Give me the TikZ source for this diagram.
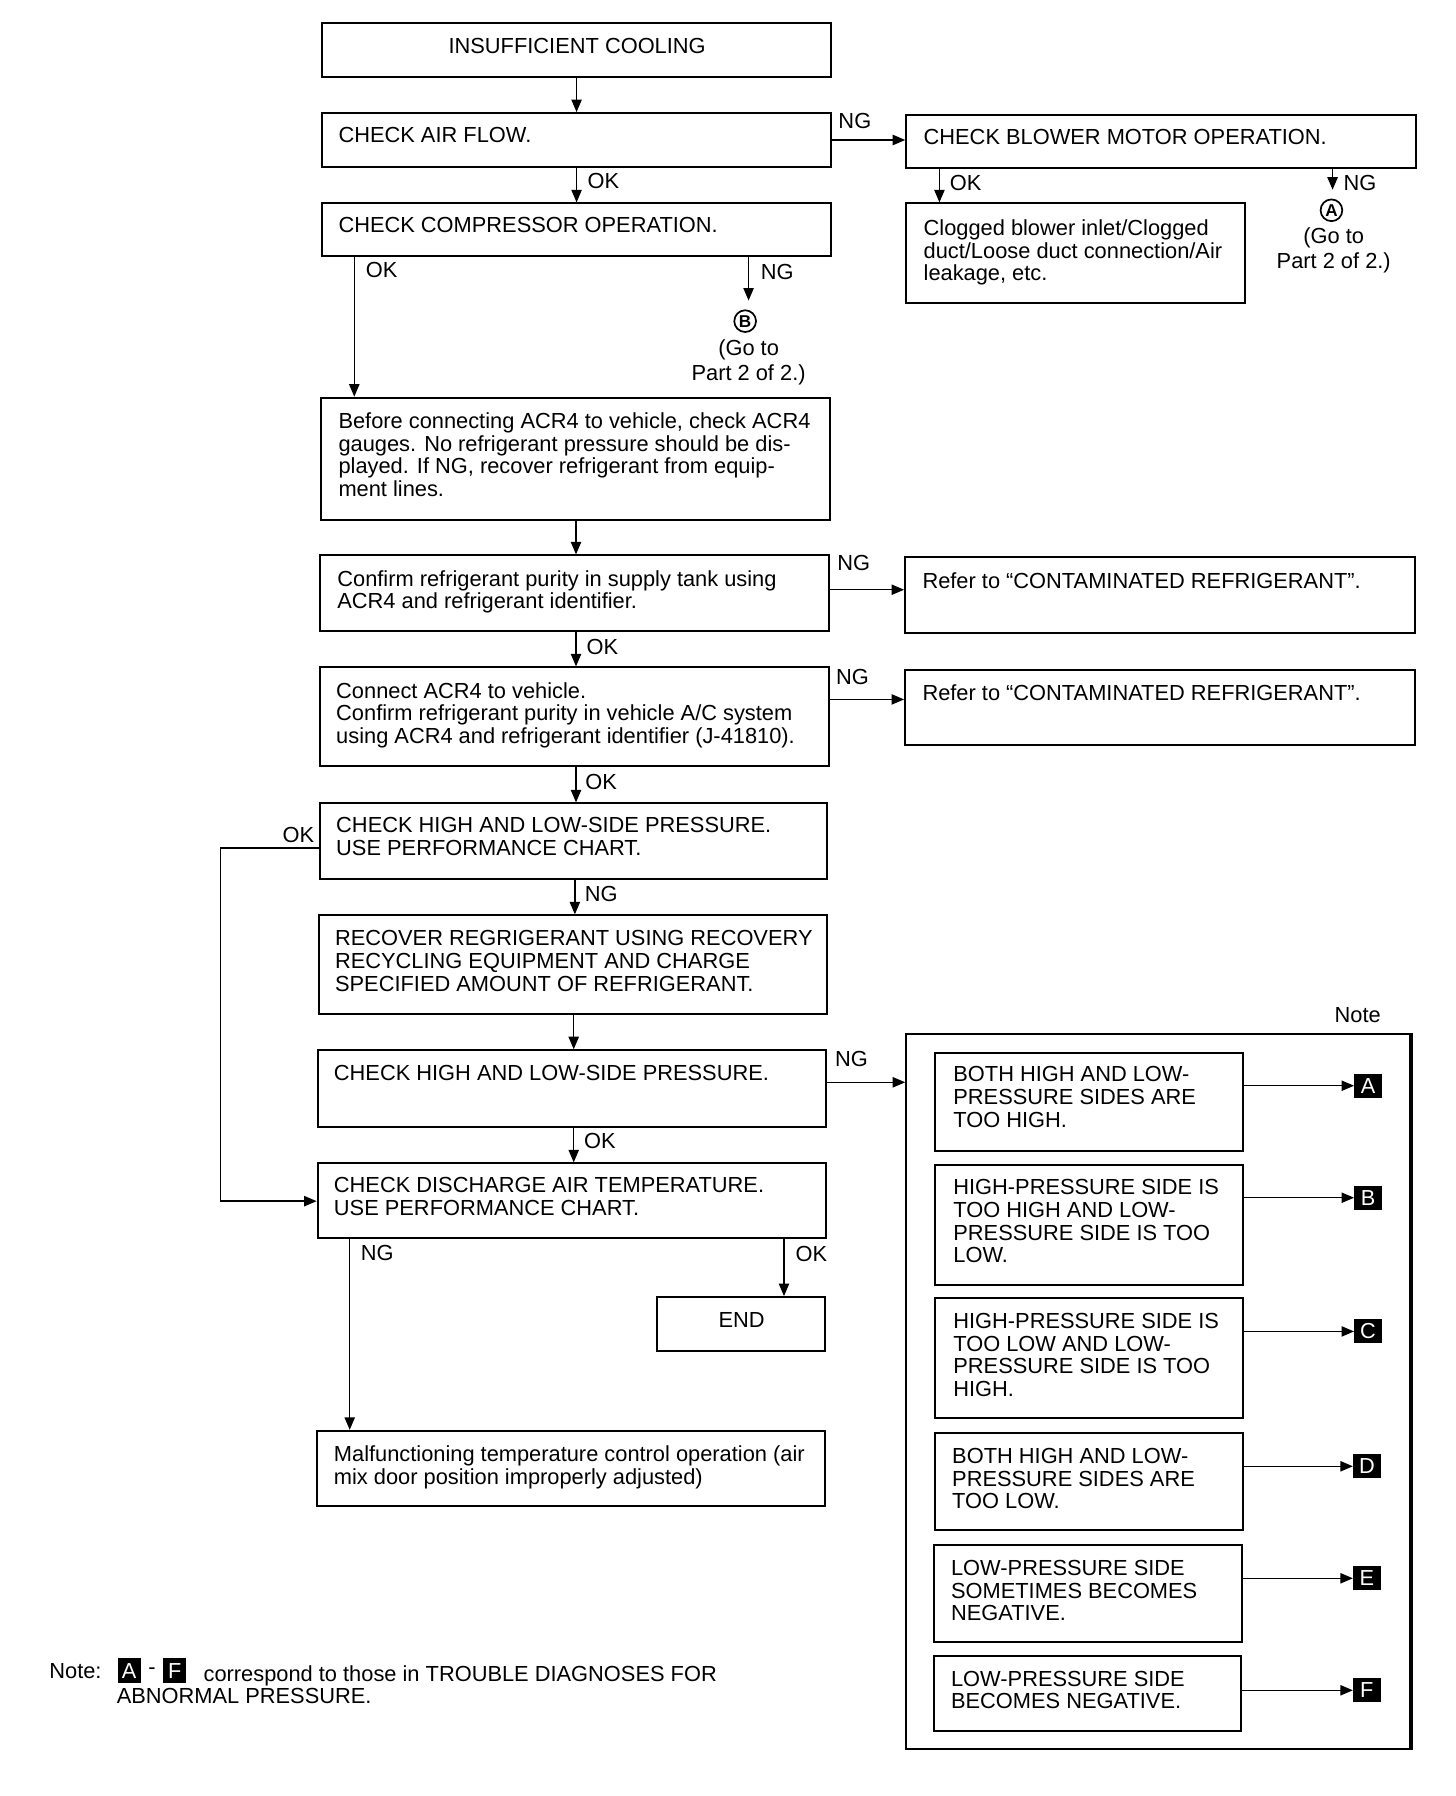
\documentclass[tikz,border=0pt]{standalone}
\usepackage{fontspec}
\setmainfont{Liberation Sans}
\usetikzlibrary{arrows.meta,calc,fit}
\begin{document}
\begin{tikzpicture}[x=1pt,y=-1pt,
  box/.style={draw, line width=1.8pt, inner sep=0pt},
  txt/.style={inner sep=0pt, align=left, anchor=north west, yshift=7pt, font=\fontsize{19.1}{19.8}\selectfont},
  lbl/.style={inner sep=0pt, font=\fontsize{19.1}{19.8}\selectfont},
  ctr/.style={inner sep=0pt, align=center, anchor=north, yshift=7pt, font=\fontsize{19.1}{21.5}\selectfont},
  arr/.style={line width=1.3pt, -{Triangle[length=11pt,width=9pt]}},
  lett/.style={fill=black, text=white, minimum width=24pt, minimum height=21pt, inner sep=0pt, font=\fontsize{19}{19}\selectfont},
  circ/.style={circle, draw, line width=1.5pt, inner sep=0pt, minimum size=19pt, font=\bfseries\fontsize{15}{15}\selectfont},
]
\useasboundingbox (0,0) rectangle (1274,1571.5);

% ---------- main column boxes ----------
\node[box, fit={(282,20)(727,67)}] (b1) {};
\node[box, fit={(282,99)(727,146)}] (b2) {};
\node[box, fit={(282,178)(727,224)}] (b3) {};
\node[box, fit={(281,348)(726,455)}] (b4) {};
\node[box, fit={(280,486)(725,552)}] (b5) {};
\node[box, fit={(280,584)(725,670)}] (b6) {};
\node[box, fit={(280,703)(724,769)}] (b7) {};
\node[box, fit={(279,801)(724,887)}] (b8) {};
\node[box, fit={(278,919)(723,986)}] (b9) {};
\node[box, fit={(278,1018)(723,1083)}] (b10) {};
\node[box, fit={(575,1135)(722,1182)}] (b11) {};
\node[box, fit={(277,1252)(722,1318)}] (b12) {};
% ---------- right column boxes ----------
\node[box, fit={(793,101)(1239,147)}] (b13) {};
\node[box, fit={(793,178)(1089,265)}] (b14) {};
\node[box, fit={(792,487)(1238,554)}] (b15) {};
\node[box, fit={(792,586)(1238,652)}] (b16) {};
\node[box, fit={(793,905)(1234,1530)}] (nf) {};
\draw[line width=2.8pt] (nf.north east) -- (nf.south east);
\node[box, fit={(818,921)(1088,1007)}] (bA) {};
\node[box, fit={(818,1019)(1088,1124)}] (bB) {};
\node[box, fit={(818,1136)(1088,1241)}] (bC) {};
\node[box, fit={(818,1254)(1088,1339)}] (bD) {};
\node[box, fit={(817,1352)(1087,1437)}] (bE) {};
\node[box, fit={(817,1449)(1086,1515)}] (bF) {};

% ---------- texts ----------
\node[lbl] (t1) at (505,40) {INSUFFICIENT COOLING};
\node[txt] (t2) at (296,118) {CHECK AIR FLOW.};
\node[txt] (t3) at (296,197) {CHECK COMPRESSOR OPERATION.};
\node[txt] (t4) at (296,368) {Before connecting ACR4 to vehicle, check ACR4\\gauges. No refrigerant pressure should be dis-\\played. If NG, recover refrigerant from equip-\\ment lines.};
\node[txt] (t5) at (295,506) {Confirm refrigerant purity in supply tank using\\ACR4 and refrigerant identifier.};
\node[txt] (t6) at (294,604) {Connect ACR4 to vehicle.\\Confirm refrigerant purity in vehicle A/C system\\using ACR4 and refrigerant identifier (J-41810).};
\node[txt] (t7) at (294,722) {CHECK HIGH AND LOW-SIDE PRESSURE.\\USE PERFORMANCE CHART.};
\node[txt] (t8) at (293,821) {RECOVER REGRIGERANT USING RECOVERY\\RECYCLING EQUIPMENT AND CHARGE\\SPECIFIED AMOUNT OF REFRIGERANT.};
\node[txt] (t9) at (292,939) {CHECK HIGH AND LOW-SIDE PRESSURE.};
\node[txt] (t10) at (292,1037) {CHECK DISCHARGE AIR TEMPERATURE.\\USE PERFORMANCE CHART.};
\node[lbl] (t11) at (649,1155) {END};
\node[txt] (t12) at (292,1272) {Malfunctioning temperature control operation (air\\mix door position improperly adjusted)};
\node[txt] (t13) at (808,120) {CHECK BLOWER MOTOR OPERATION.};
\node[txt] (t14) at (808,199) {Clogged blower inlet/Clogged\\duct/Loose duct connection/Air\\leakage, etc.};
\node[txt] (t15) at (807,508) {Refer to “CONTAMINATED REFRIGERANT”.};
\node[txt] (t16) at (807,606) {Refer to “CONTAMINATED REFRIGERANT”.};
\node[lbl] (tnote) at (1188,888) {Note};
\node[txt] (tA) at (834,940) {BOTH HIGH AND LOW-\\PRESSURE SIDES ARE\\TOO HIGH.};
\node[txt] (tB) at (834,1039) {HIGH-PRESSURE SIDE IS\\TOO HIGH AND LOW-\\PRESSURE SIDE IS TOO\\LOW.};
\node[txt] (tC) at (834,1156) {HIGH-PRESSURE SIDE IS\\TOO LOW AND LOW-\\PRESSURE SIDE IS TOO\\HIGH.};
\node[txt] (tD) at (833,1274) {BOTH HIGH AND LOW-\\PRESSURE SIDES ARE\\TOO LOW.};
\node[txt] (tE) at (832,1372) {LOW-PRESSURE SIDE\\SOMETIMES BECOMES\\NEGATIVE.};
\node[txt] (tF) at (832,1469) {LOW-PRESSURE SIDE\\BECOMES NEGATIVE.};

% ---------- letter boxes ----------
\node[lett] (lA) at (1197,950) {A};
\node[lett] (lB) at (1197,1048) {B};
\node[lett] (lC) at (1197,1165) {C};
\node[lett] (lD) at (1196,1283) {D};
\node[lett] (lE) at (1196,1381) {E};
\node[lett] (lF) at (1196,1479) {F};

% ---------- go-to references ----------
\node[circ] (cA) at (1165,184) {A};
\node[ctr] (gtA) at (1167,206) {(Go to\\Part 2 of 2.)};
\node[circ] (cB) at (652,281) {B};
\node[ctr] (gtB) at (655,304) {(Go to\\Part 2 of 2.)};
\coordinate (gA) at (1166,166);
\coordinate (gB) at (655,263);

% ---------- connectors ----------
\draw[arr] (b1) -- (b2);
\draw[arr] (b2) -- (b3);
\draw[arr] (b2.east) -- (b13.west |- b2.east);
\draw[arr] (b13.south -| 822,0) -- (b14.north -| 822,0);
\draw[arr] (b13.south -| gA) -- (gA);
\draw[arr] (b3.south -| 310,0) -- (b4.north -| 310,0);
\draw[arr] (b3.south -| gB) -- (gB);
\draw[arr] (b4.south -| 504,0) -- (b5.north -| 504,0);
\draw[arr] (b5.east |- 0,516) -- (b15.west |- 0,516);
\draw[arr] (b5.south -| 504,0) -- (b6.north -| 504,0);
\draw[arr] (b6.east |- 0,612) -- (b16.west |- 0,612);
\draw[arr] (b6.south -| 504,0) -- (b7.north -| 504,0);
\draw[arr] (b7.south -| 503,0) -- (b8.north -| 503,0);
\draw[arr] (b8.south -| 502,0) -- (b9.north -| 502,0);
\draw[arr] (b9.south -| 502,0) -- (b10.north -| 502,0);
\draw[arr] (b9.east |- 0,947) -- (nf.west |- 0,947);
\draw[arr] (b7.west |- 0,742) -- (193,742) |- (b10.west |- 0,1051);
\draw[arr] (b10.south -| 306,0) -- (b12.north -| 306,0);
\draw[arr] (b10.south -| 686,0) -- (b11.north -| 686,0);
\draw[arr] (bA.east |- lA) -- (lA.west);
\draw[arr] (bB.east |- lB) -- (lB.west);
\draw[arr] (bC.east |- lC) -- (lC.west);
\draw[arr] (bD.east |- lD) -- (lD.west);
\draw[arr] (bE.east |- lE) -- (lE.west);
\draw[arr] (bF.east |- lF) -- (lF.west);

% ---------- connector labels ----------
\node[lbl] at (748,106) {NG};
\node[lbl] at (528,158) {OK};
\node[lbl] at (845,160) {OK};
\node[lbl] at (1190,160) {NG};
\node[lbl] at (334,236) {OK};
\node[lbl] at (680,238) {NG};
\node[lbl] at (747,493) {NG};
\node[lbl] at (527,566) {OK};
\node[lbl] at (746,592) {NG};
\node[lbl] at (526,684) {OK};
\node[lbl] at (261,731) {OK};
\node[lbl] at (526,782) {NG};
\node[lbl] at (745,927) {NG};
\node[lbl] at (525,998) {OK};
\node[lbl] at (330,1096) {NG};
\node[lbl] at (710,1097) {OK};

% ---------- bottom note ----------
\node[lbl, anchor=west] (nt) at (43,1462) {Note:};
\node[lett, minimum width=20pt, minimum height=22pt] (nA) at (113,1462) {A};
\node[lbl] (ndash) at (133,1462) {-};
\node[lett, minimum width=20pt, minimum height=22pt] (nF) at (153,1462) {F};
\node[txt] (ntx) at (178,1464) {correspond to those in TROUBLE DIAGNOSES FOR};
\node[txt] (ntx2) at (102,1484) {ABNORMAL PRESSURE.};
\end{tikzpicture}
\end{document}
